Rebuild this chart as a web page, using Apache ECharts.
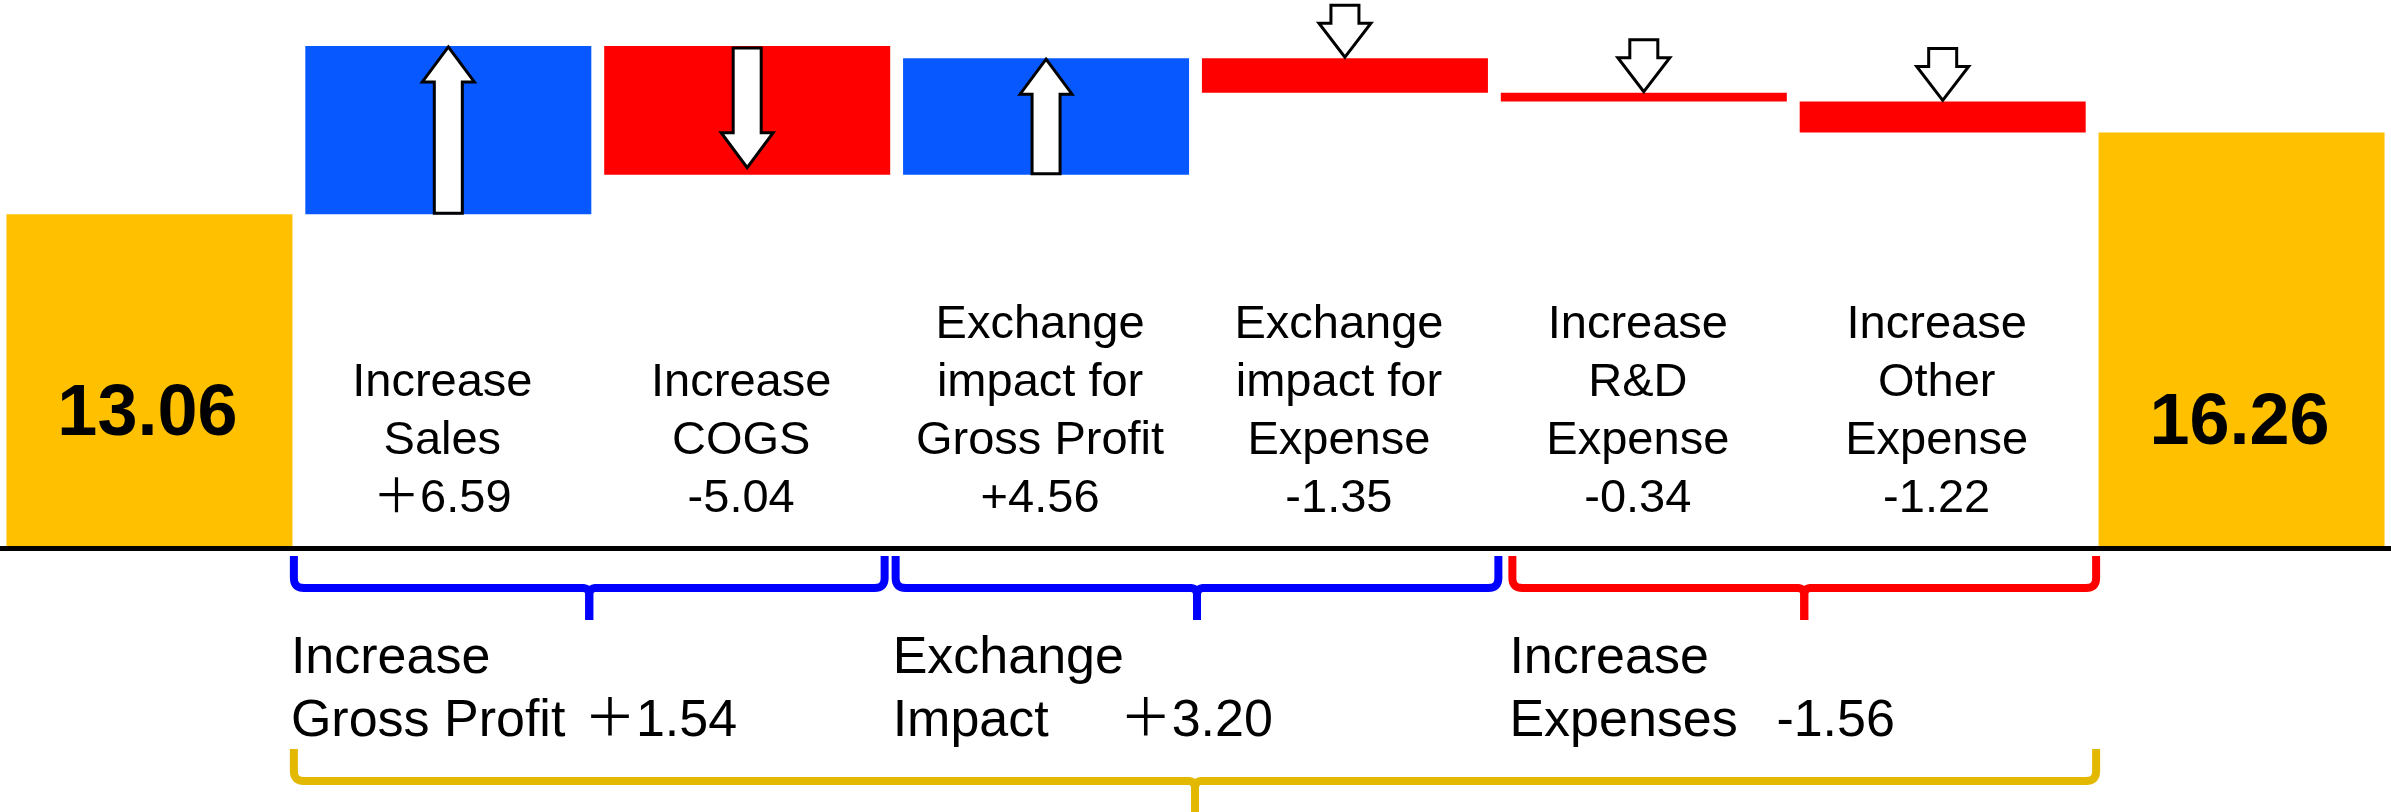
<!DOCTYPE html>
<html>
<head>
<meta charset="utf-8">
<script src="https://cdn.jsdelivr.net/npm/echarts@6/dist/echarts.min.js"></script>
<style>
  html, body { margin: 0; padding: 0; background: #fff; }
  #main { width: 2391px; height: 812px; }
</style>
</head>
<body>
<div id="main"></div>
<script>
// data
var categories = ['Start', 'Increase\nSales', 'Increase\nCOGS', 'Exchange\nimpact for\nGross Profit',
  'Exchange\nimpact for\nExpense', 'Increase\nR&D\nExpense', 'Increase\nOther\nExpense', 'End'];
var changes = [13.06, 6.59, -5.04, 4.56, -1.35, -0.34, -1.22, 16.26];
var changeLabels = ['13.06', '＋6.59', '-5.04', '+4.56', '-1.35', '-0.34', '-1.22', '16.26'];
var isTotal = [true, false, false, false, false, false, false, true];

var groupNames = ['Increase\nGross Profit', 'Exchange\nImpact', 'Increase\nExpenses'];
var groupValues = ['＋1.54', '＋3.20', '-1.56'];
var groupRanges = [[1, 2], [3, 4], [5, 6], [1, 6]];

// layout / style
var FONT = "'Liberation Sans', Arial, 'Noto Sans CJK JP', sans-serif";
var COLOR_TOTAL = '#FFC000', COLOR_UP = '#0759FF', COLOR_DOWN = '#FF0000';
var braceColors = ['#0000FF', '#0000FF', '#FF0000', '#E3B800'];
var braceInset = [[-5, -12], [-1, 4], [18, 4], [-5, 4]];
var groupValueOffset = [293, 227, 267];
var totalLabelY = [415, 424];

// build waterfall (transparent base + visible part)
var baseData = [], barData = [], arrowData = [];
var running = 0;
for (var i = 0; i < changes.length; i++) {
  var v = changes[i], color;
  if (isTotal[i]) {
    baseData.push(0); barData.push(v); running = v; color = COLOR_TOTAL;
  } else if (v >= 0) {
    baseData.push(running); barData.push(v);
    arrowData.push([i, running, running + v, 1]);
    running += v; color = COLOR_UP;
  } else {
    running += v;
    baseData.push(running); barData.push(-v);
    arrowData.push([i, running, running - v, -1]);
    color = COLOR_DOWN;
  }
  barData[i] = { value: barData[i], itemStyle: { color: color } };
}

function renderArrow(params, api) {
  var idx = api.value(0);
  var x = api.coord([idx, 0])[0];
  var yLow = api.coord([idx, api.value(1)])[1];
  var yHigh = api.coord([idx, api.value(2)])[1];
  var up = api.value(3) > 0;
  var tipY, tailY, hl = 35;
  if (yLow - yHigh > 80) {
    if (up) { tailY = yLow - 1; tipY = yHigh + 1; }
    else { tailY = yHigh + 2; tipY = yLow - 7; }
  } else {
    // small bar: arrow sits on top of the bar
    up = false; tipY = yHigh - 1; tailY = yHigh - 53; hl = 34;
  }
  var d = up ? 1 : -1;
  var hw = 26, sw = 14;
  var pts = [
    [x, tipY], [x + hw, tipY + d * hl], [x + sw, tipY + d * hl], [x + sw, tailY],
    [x - sw, tailY], [x - sw, tipY + d * hl], [x - hw, tipY + d * hl]
  ];
  return {
    type: 'polygon',
    shape: { points: pts },
    style: { fill: '#fff', stroke: '#000', lineWidth: 3, lineJoin: 'miter' }
  };
}

function renderCatLabel(params, api) {
  var i = api.value(0);
  var p = api.coord([i, 0]);
  if (isTotal[i]) {
    return {
      type: 'text', x: p[0] - 2, y: totalLabelY[i === 0 ? 0 : 1],
      style: { text: changeLabels[i], font: 'bold 72px ' + FONT, fill: '#000',
        align: 'center', verticalAlign: 'middle' }
    };
  }
  return {
    type: 'text', x: p[0] - 6, y: p[1] - 20,
    style: { text: categories[i] + '\n' + changeLabels[i], font: '47px ' + FONT,
      lineHeight: 58, fill: '#000', align: 'center', verticalAlign: 'bottom' }
  };
}

function quad(p0, c, p1) {
  var out = [];
  for (var t = 0; t <= 1.0001; t += 0.125) {
    var a = (1 - t) * (1 - t), b = 2 * (1 - t) * t, e = t * t;
    out.push([a * p0[0] + b * c[0] + e * p1[0], a * p0[1] + b * c[1] + e * p1[1]]);
  }
  return out;
}

function renderBrace(params, api) {
  var k = params.dataIndex;
  var s = api.value(0), e = api.value(1);
  var slot = api.size([1, 0])[0];
  var base = api.coord([s, 0])[1];
  var xl = api.coord([s, 0])[0] - slot / 2 + braceInset[k][0];
  var xr = api.coord([e, 0])[0] + slot / 2 + braceInset[k][1];
  var xc = (xl + xr) / 2;
  var top, mid, tip;
  if (k < 3) { top = base + 8; mid = base + 40; tip = base + 72; }
  else { top = base + 201; mid = base + 233; tip = base + 275; }
  var r = 10, r2 = 7;
  var left = [[xl, top]].concat(quad([xl, mid - r], [xl, mid], [xl + r, mid]))
    .concat(quad([xc - r2, mid], [xc, mid], [xc, mid + r2])).concat([[xc, tip]]);
  var right = [[xr, top]].concat(quad([xr, mid - r], [xr, mid], [xr - r, mid]))
    .concat(quad([xc + r2, mid], [xc, mid], [xc, mid + r2])).concat([[xc, tip]]);
  var st = { fill: null, stroke: braceColors[k], lineWidth: 8, lineJoin: 'round', lineCap: 'butt' };
  var children = [
    { type: 'polyline', shape: { points: left }, style: st },
    { type: 'polyline', shape: { points: right }, style: st }
  ];
  if (k < 3) {
    var tx = xl - 3, ty = base + 79;
    children.push({
      type: 'text', x: tx, y: ty,
      style: { text: groupNames[k], font: '52px ' + FONT, lineHeight: 63, fill: '#000',
        align: 'left', verticalAlign: 'top' }
    });
    children.push({
      type: 'text', x: tx + groupValueOffset[k], y: ty + 63,
      style: { text: groupValues[k], font: '52px ' + FONT, lineHeight: 63, fill: '#000',
        align: 'left', verticalAlign: 'top' }
    });
  }
  return { type: 'group', children: children };
}

var chart = echarts.init(document.getElementById('main'));
var option = {
  animation: false,
  backgroundColor: '#fff',
  grid: { left: -4, width: 2400, top: 37, bottom: 264 },
  xAxis: {
    type: 'category',
    data: categories,
    z: 10,
    axisTick: { show: false },
    axisLabel: { show: false },
    axisLine: { show: true, lineStyle: { color: '#000', width: 5 } }
  },
  yAxis: {
    type: 'value', min: 0, max: 20, show: false,
    splitLine: { show: false }
  },
  series: [
    {
      name: 'base', type: 'bar', stack: 'w', barWidth: 286, silent: true,
      itemStyle: { color: 'transparent' }, data: baseData
    },
    {
      name: 'value', type: 'bar', stack: 'w', barWidth: 286, data: barData
    },
    {
      name: 'arrows', type: 'custom', z: 5, renderItem: renderArrow, data: arrowData
    },
    {
      name: 'labels', type: 'custom', z: 6, renderItem: renderCatLabel,
      data: categories.map(function (c, i) { return [i, 0]; })
    },
    {
      name: 'braces', type: 'custom', z: 6, clip: false, renderItem: renderBrace,
      data: groupRanges.map(function (g) { return [g[0], g[1], 0]; })
    }
  ]
};
chart.setOption(option);
</script>
</body>
</html>
